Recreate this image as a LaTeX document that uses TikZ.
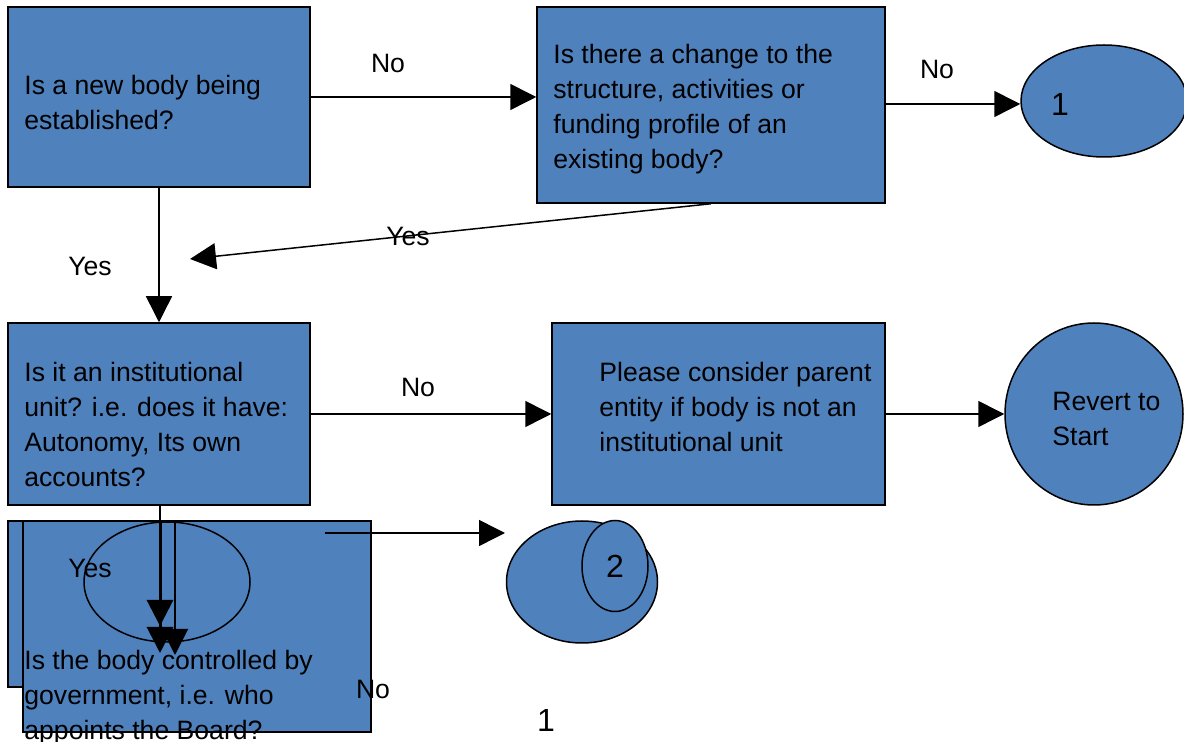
\documentclass[tikz,border=0pt]{standalone}
\usepackage{fontspec}
\setmainfont{Liberation Sans}
\usepackage{xcolor}
\usetikzlibrary{arrows.meta,shapes.geometric}
\definecolor{boxblue}{RGB}{79,129,189}

\begin{document}
\begin{tikzpicture}[
    x=0.5pt, y=-0.5pt,
    box/.style={draw, line width=0.75pt, fill=boxblue, inner sep=0pt, minimum width=#1},
    oval/.style={draw, ellipse, line width=0.75pt, fill=boxblue, inner sep=0pt},
    txt/.style={anchor=north west, inner sep=0pt, align=left, font=\fontsize{13.3}{17.4}\selectfont},
    lbl/.style={inner sep=0pt, font=\fontsize{13.3}{16}\selectfont},
    num/.style={inner sep=0pt, font=\fontsize{16}{18}\selectfont},
    arr/.style={-{Triangle[length=13pt,width=13pt]}, line width=0.75pt}
]
\useasboundingbox (0,0) rectangle (1184,742);

% New body question
\node[box=151pt, minimum height=90pt] (newbody) at (159,97) {};
\node[txt] (newbodytxt) at (24,75) {Is a new body being\\established?};

% Change to existing body
\node[box=174pt, minimum height=98pt] (change) at (711,105) {};
\node[txt] (changetxt) at (553,44) {Is there a change to the\\structure, activities or\\funding profile of an\\existing body?};

% Outcome 1
\node[oval, minimum width=83pt, minimum height=56pt] (one) at (1104,101) {};
\node[num] (onetxt) at (1060,104) {1};

% Arrows along the top row
\draw[arr] (newbody.east) -- (newbody.east -| change.west);
\node[lbl] (no1) at (388,63) {No};
\draw[arr] (change.east) ++(0,-1) -- (one.west |- 0,104);
\node[lbl] (no2) at (937,69) {No};

% Yes from the change box
\coordinate (yestip) at (190,259);
\draw[arr] (change.south) -- (yestip);
\node[lbl] (yes1) at (408,236) {Yes};

% Institutional unit question
\node[box=151pt, minimum height=91pt] (unit) at (159,414) {};
\node[txt] (unittxt) at (24,362) {Is it an institutional\\unit? i.e. does it have:\\Autonomy, Its own\\accounts?};
\draw[arr] (newbody.south) -- (unit.north);
\node[lbl] (yes2) at (90,266) {Yes};

% Parent entity
\node[box=166.5pt, minimum height=91pt] (parent) at (718.5,414) {};
\node[txt] (parenttxt) at (599,362) {Please consider parent\\entity if body is not an\\institutional unit};
\draw[arr] (unit.east) -- (parent.west);
\node[lbl] (no3) at (418,387) {No};

% Revert to start
\node[oval, minimum width=89pt, minimum height=91pt] (revert) at (1094,414) {};
\node[txt] (reverttxt) at (1052,392) {Revert to\\Start};
\draw[arr] (parent.east) -- (revert.west);

% Government control question (overlapping shapes)
\node[box=176pt, minimum height=83pt] (govback) at (184,604) {};
\node[box=174pt, minimum height=105.5pt] (gov) at (197,626.5) {};
\node[draw, ellipse, line width=0.75pt, inner sep=0pt, minimum width=83pt, minimum height=60pt] (govoval) at (167,582) {};
\coordinate (downa) at (160,521);
\coordinate (downb) at (175,521);
\coordinate (tipa) at (160,653);
\coordinate (tipb) at (160,626);
\coordinate (tipc) at (175,655);
\draw[line width=0.6pt] (unit.south -| downa) -- (downa);
\draw[arr, line width=1.5pt] (downa) -- (tipa);
\draw[arr, line width=1.5pt] (downa) -- (tipb);
\draw[arr, line width=1pt] (downb) -- (tipc);
\node[lbl] (yes3) at (90,568) {Yes};
\node[txt] (govtxt) at (24,650) {Is the body controlled by\\government, i.e. who\\appoints the Board?};
\node[lbl] (no4) at (373,689) {No};

% Outcome 2
\node[oval, minimum width=75.5pt, minimum height=61pt] (two) at (582,582) {};
\node[oval, num, minimum width=33pt, minimum height=45.5pt] (twosmall) at (615,566) {2};
\coordinate (nostart) at (325,533);
\coordinate (notip) at (505,533);
\draw[arr] (nostart) -- (notip);

% page number
\node[num] (page) at (546,720) {1};
\end{tikzpicture}
\end{document}
